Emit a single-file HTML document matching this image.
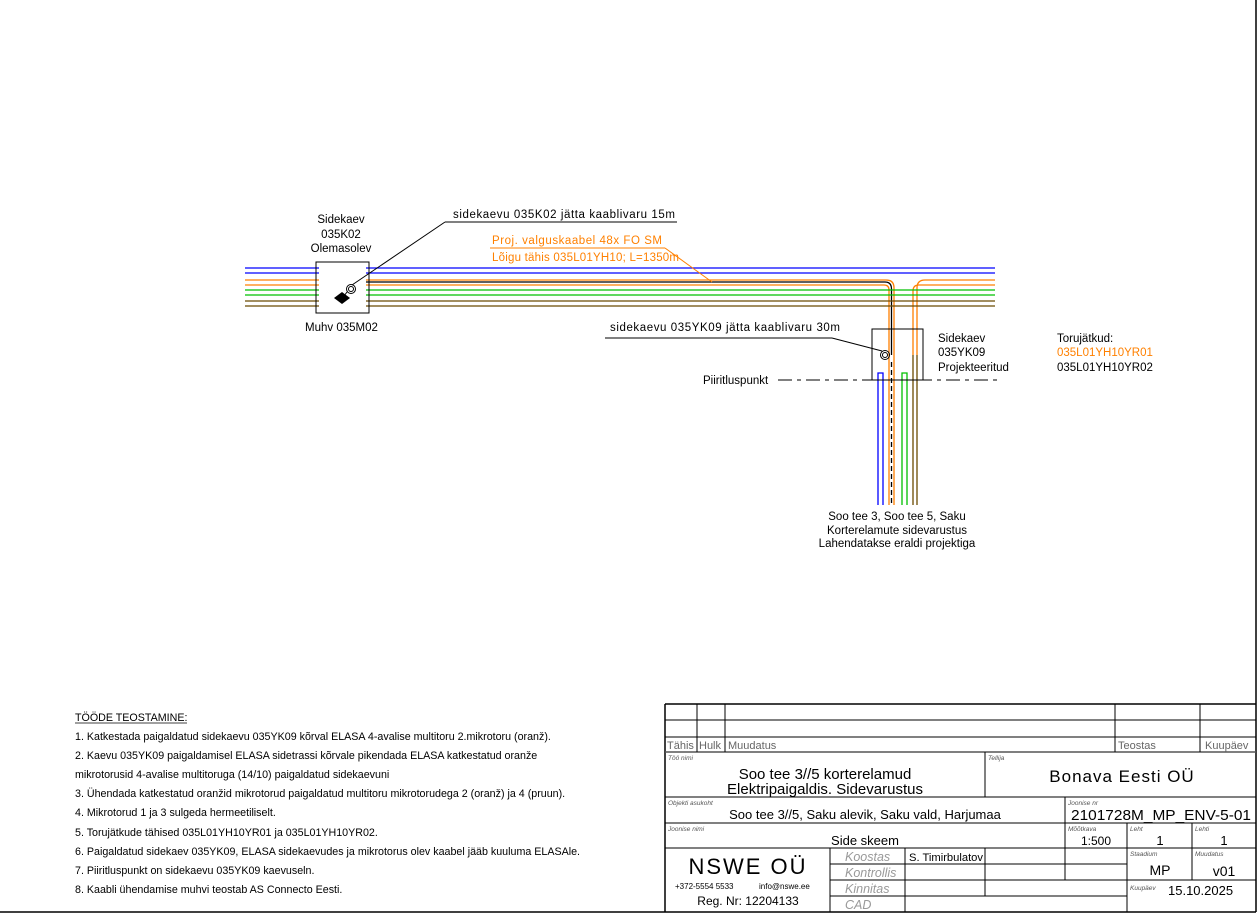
<!DOCTYPE html>
<html><head><meta charset="utf-8"><style>
html,body{margin:0;padding:0;background:#fff;}
svg{display:block;}
.c{font-family:"Liberation Sans Narrow","Liberation Sans",sans-serif;}
.n{font-family:"Liberation Sans",sans-serif;font-size:10.7px;fill:#000;}
</style></head><body>
<svg width="1259" height="916" viewBox="0 0 1259 916" xmlns="http://www.w3.org/2000/svg">
<g fill="none" stroke-width="1.3">
 <line x1="245" y1="268" x2="995" y2="268" stroke="#0000ff"/>
 <line x1="245" y1="273" x2="995" y2="273" stroke="#0000ff"/>
 <path d="M245 280 H886 Q894 280 894 288 V505" stroke="#ff8000"/>
 <path d="M245 285 H884 Q889 285 889 290 V505" stroke="#ff8000"/>
 <path d="M350 282 H885 Q891.5 282 891.5 289 V355" stroke="#000"/>
 <line x1="891.5" y1="362" x2="891.5" y2="505" stroke="#000" stroke-dasharray="5,3"/>
 <path d="M995 280 H925 Q917 280 917 288 V355" stroke="#ff8000"/>
 <path d="M995 285 H919 Q913 285 913 291 V355" stroke="#ff8000"/>
 <line x1="917" y1="355" x2="917" y2="505" stroke="#6b4a00"/>
 <line x1="913" y1="355" x2="913" y2="505" stroke="#6b4a00"/>
 <line x1="245" y1="290" x2="995" y2="290" stroke="#00c000"/>
 <line x1="245" y1="295" x2="995" y2="295" stroke="#00c000"/>
 <line x1="245" y1="301" x2="995" y2="301" stroke="#6b4a00"/>
 <line x1="245" y1="306" x2="995" y2="306" stroke="#6b4a00"/>
 <path d="M878 505 V373 H883 V505" stroke="#0000ff"/>
 <path d="M902 505 V373 H907 V505" stroke="#00c000"/>
</g>
<rect x="319" y="262" width="47" height="51" fill="#fff"/>
<rect x="316" y="262" width="53" height="51" fill="none" stroke="#000" stroke-width="1"/>
<g stroke="#000" fill="none" stroke-width="1">
 <circle cx="351" cy="289" r="4.5"/><circle cx="351" cy="289" r="2.5"/>
 <path d="M347 292 L344 296"/>
 <line x1="352" y1="285" x2="445" y2="222"/>
 <line x1="445" y1="222" x2="677" y2="222"/>
 <rect x="872" y="329" width="51" height="51"/>
 <circle cx="885" cy="355" r="4.5"/><circle cx="885" cy="355" r="2.5"/>
 <line x1="882" y1="351" x2="832" y2="338"/>
 <line x1="832" y1="338" x2="605" y2="338"/>
 <line x1="778" y1="380" x2="1000" y2="380" stroke-dasharray="14,5,4,5"/>
</g>
<polygon points="342,292 350,298 342,304 334,298" fill="#000"/>
<g stroke="#ff8000" fill="none" stroke-width="1">
 <line x1="490" y1="248" x2="665" y2="248"/>
 <line x1="665" y1="248" x2="712" y2="282"/>
</g>
<g class="c" font-size="11.5" fill="#000">
 <text x="341" y="223" text-anchor="middle">Sidekaev</text>
 <text x="341" y="238" text-anchor="middle">035K02</text>
 <text x="341" y="252" text-anchor="middle">Olemasolev</text>
 <text x="305" y="331">Muhv 035M02</text>
 <text x="453" y="218" textLength="222">sidekaevu 035K02 jätta kaablivaru 15m</text>
 <text x="492" y="244" fill="#ff8000" textLength="170">Proj. valguskaabel 48x FO SM</text>
 <text x="492" y="261" fill="#ff8000" textLength="187">Lõigu tähis 035L01YH10; L=1350m</text>
 <text x="610" y="331" textLength="230">sidekaevu 035YK09 jätta kaablivaru 30m</text>
 <text x="938" y="342">Sidekaev</text>
 <text x="938" y="356">035YK09</text>
 <text x="938" y="371">Projekteeritud</text>
 <text x="1057" y="342">Torujätkud:</text>
 <text x="1057" y="356" fill="#ff8000">035L01YH10YR01</text>
 <text x="1057" y="371">035L01YH10YR02</text>
 <text x="703" y="384">Piiritluspunkt</text>
 <text x="897" y="520" text-anchor="middle">Soo tee 3, Soo tee 5, Saku</text>
 <text x="897" y="534" text-anchor="middle">Korterelamute sidevarustus</text>
 <text x="897" y="547" text-anchor="middle">Lahendatakse eraldi projektiga</text>
</g>
<g class="n">
 <text x="75" y="721">TÖÖDE TEOSTAMINE:</text>
 <line x1="75" y1="723" x2="187" y2="723" stroke="#000" stroke-width="0.8"/>
 <text x="75" y="740">1. Katkestada paigaldatud sidekaevu 035YK09 kõrval ELASA 4-avalise multitoru 2.mikrotoru (oranž).</text>
 <text x="75" y="759">2. Kaevu 035YK09 paigaldamisel ELASA sidetrassi kõrvale pikendada ELASA katkestatud oranže</text>
 <text x="75" y="778">mikrotorusid 4-avalise multitoruga (14/10) paigaldatud sidekaevuni</text>
 <text x="75" y="797">3. Ühendada katkestatud oranžid mikrotorud paigaldatud multitoru mikrotorudega 2 (oranž) ja 4 (pruun).</text>
 <text x="75" y="816">4. Mikrotorud 1 ja 3 sulgeda hermeetiliselt.</text>
 <text x="75" y="836">5. Torujätkude tähised 035L01YH10YR01 ja 035L01YH10YR02.</text>
 <text x="75" y="855">6. Paigaldatud sidekaev 035YK09, ELASA sidekaevudes ja mikrotorus olev kaabel jääb kuuluma ELASAle.</text>
 <text x="75" y="874">7. Piiritluspunkt on sidekaevu 035YK09 kaevuseln.</text>
 <text x="75" y="893">8. Kaabli ühendamise muhvi teostab AS Connecto Eesti.</text>
</g>
<g stroke="#000" stroke-width="1.5" fill="none">
 <line x1="1256" y1="0" x2="1256" y2="912"/>
 <line x1="0" y1="912" x2="1256" y2="912"/>
 <line x1="665" y1="704" x2="665" y2="912"/>
 <line x1="665" y1="704" x2="1256" y2="704"/>
</g>
<g stroke="#000" stroke-width="1" fill="none">
 <line x1="665" y1="720" x2="1256" y2="720"/>
 <line x1="665" y1="737" x2="1256" y2="737"/>
 <line x1="665" y1="752" x2="1256" y2="752" stroke="#555" stroke-width="1.5"/>
 <line x1="697" y1="704" x2="697" y2="752"/>
 <line x1="725" y1="704" x2="725" y2="752"/>
 <line x1="1115" y1="704" x2="1115" y2="752"/>
 <line x1="1200" y1="704" x2="1200" y2="752"/>
 <line x1="665" y1="797" x2="1256" y2="797"/>
 <line x1="985" y1="752" x2="985" y2="797"/>
 <line x1="665" y1="823" x2="1256" y2="823"/>
 <line x1="1065" y1="797" x2="1065" y2="880"/>
 <line x1="665" y1="848" x2="1256" y2="848"/>
 <line x1="1127" y1="823" x2="1127" y2="912"/>
 <line x1="1192" y1="823" x2="1192" y2="880"/>
 <line x1="830" y1="848" x2="830" y2="912"/>
 <line x1="905" y1="848" x2="905" y2="912"/>
 <line x1="985" y1="848" x2="985" y2="896"/>
 <line x1="830" y1="864" x2="1127" y2="864"/>
 <line x1="830" y1="880" x2="1256" y2="880"/>
 <line x1="830" y1="896" x2="1127" y2="896"/>
</g>
<g class="c" fill="#000">
 <g font-size="11" fill="#666">
  <text x="667" y="749">Tähis</text><text x="699" y="749">Hulk</text><text x="728" y="749">Muudatus</text>
  <text x="1118" y="749">Teostas</text><text x="1205" y="749">Kuupäev</text>
 </g>
 <g font-size="6.5" fill="#555" font-style="italic">
  <text x="668" y="760">Töö nimi</text><text x="988" y="760">Tellija</text>
  <text x="668" y="805">Objekti asukoht</text><text x="1068" y="805">Joonise nr</text>
  <text x="668" y="831">Joonise nimi</text><text x="1068" y="831">Mõõtkava</text>
  <text x="1130" y="831">Leht</text><text x="1195" y="831">Lehti</text>
  <text x="1130" y="856">Staadium</text><text x="1195" y="856">Muudatus</text>
  <text x="1130" y="890">Kuupäev</text>
 </g>
 <text x="825" y="779" font-size="15" text-anchor="middle">Soo tee 3//5 korterelamud</text>
 <text x="825" y="794" font-size="15" text-anchor="middle">Elektripaigaldis. Sidevarustus</text>
 <text x="1122" y="782" font-size="17" text-anchor="middle" letter-spacing="1">Bonava Eesti OÜ</text>
 <text x="865" y="819" font-size="13" text-anchor="middle">Soo tee 3//5, Saku alevik, Saku vald, Harjumaa</text>
 <text x="1071" y="820" font-size="15" textLength="180" lengthAdjust="spacingAndGlyphs">2101728M_MP_ENV-5-01</text>
 <text x="865" y="845" font-size="13" text-anchor="middle">Side skeem</text>
 <text x="1096" y="845" font-size="12" text-anchor="middle">1:500</text>
 <text x="1160" y="845" font-size="13" text-anchor="middle">1</text>
 <text x="1224" y="845" font-size="13" text-anchor="middle">1</text>
 <text x="748" y="874" font-size="22" text-anchor="middle" letter-spacing="2">NSWE OÜ</text>
 <text x="675" y="889" font-size="8">+372-5554 5533</text>
 <text x="759" y="889" font-size="8">info@nswe.ee</text>
 <text x="748" y="905" font-size="12" text-anchor="middle">Reg. Nr: 12204133</text>
 <g font-size="12.5" fill="#999" font-style="italic">
  <text x="845" y="861">Koostas</text><text x="845" y="877">Kontrollis</text>
  <text x="845" y="893">Kinnitas</text><text x="845" y="909">CAD</text>
 </g>
 <text x="909" y="861" font-size="11" textLength="74" lengthAdjust="spacingAndGlyphs">S. Timirbulatov</text>
 <text x="1160" y="875" font-size="14" text-anchor="middle">MP</text>
 <text x="1224" y="876" font-size="14" text-anchor="middle">v01</text>
 <text x="1168" y="895" font-size="13">15.10.2025</text>
</g>
</svg>
</body></html>
